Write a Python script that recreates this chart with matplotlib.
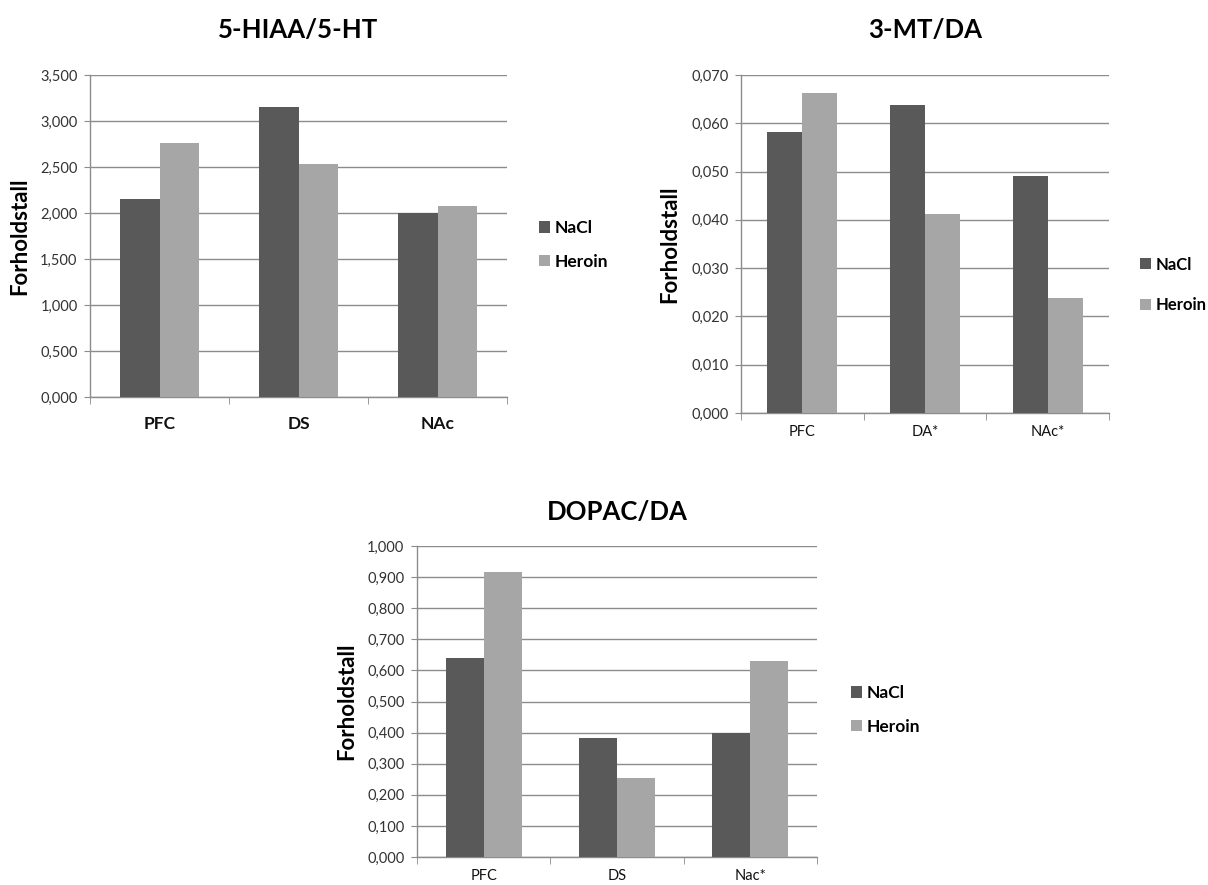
import numpy as np
import matplotlib
matplotlib.use("Agg")
import matplotlib.pyplot as plt
from matplotlib.ticker import FuncFormatter, FixedLocator

plt.rcParams['font.family'] = ['Lato', 'DejaVu Sans']

# Data
series = ["NaCl", "Heroin"]

hiaa_title = "5-HIAA/5-HT"
hiaa_cats = ["PFC", "DS", "NAc"]
hiaa_nacl = [2.15, 3.15, 2.00]
hiaa_heroin = [2.76, 2.53, 2.08]
hiaa_ticks = [0.0, 0.5, 1.0, 1.5, 2.0, 2.5, 3.0, 3.5]

mt_title = "3-MT/DA"
mt_cats = ["PFC", "DA*", "NAc*"]
mt_nacl = [0.0582, 0.0637, 0.0491]
mt_heroin = [0.0662, 0.0413, 0.0238]
mt_ticks = [0.0, 0.01, 0.02, 0.03, 0.04, 0.05, 0.06, 0.07]

dopac_title = "DOPAC/DA"
dopac_cats = ["PFC", "DS", "Nac*"]
dopac_nacl = [0.641, 0.382, 0.400]
dopac_heroin = [0.915, 0.253, 0.630]
dopac_ticks = [0.0, 0.1, 0.2, 0.3, 0.4, 0.5, 0.6, 0.7, 0.8, 0.9, 1.0]

ylabel = "Forholdstall"

DARK = "#595959"
LIGHT = "#a6a6a6"
GRID = "#8c8c8c"
W, H = 1208, 885

fig = plt.figure(figsize=(W / 100, H / 100), dpi=100)


def px_axes(left, right, top, bottom):
    return fig.add_axes([left / W, 1 - bottom / H, (right - left) / W, (bottom - top) / H])


def comma_fmt(v, pos):
    return f"{v:.3f}".replace(".", ",")


def draw(ax, title, cats, nacl, heroin, ticks, bold_cats, cat_size, title_y,
         ylab_x, leg_xy, leg_space, leg_size):
    x = np.arange(len(cats))
    w = 1 / 3.5
    b1 = ax.bar(x - w / 2, nacl, w, color=DARK, label=series[0], zorder=3)
    b2 = ax.bar(x + w / 2, heroin, w, color=LIGHT, label=series[1], zorder=3)
    ax.set_xlim(-0.5, len(cats) - 0.5)
    ax.set_ylim(ticks[0], ticks[-1])
    ax.yaxis.set_major_locator(FixedLocator(ticks))
    ax.yaxis.set_major_formatter(FuncFormatter(comma_fmt))
    ax.yaxis.grid(True, color=GRID, lw=1.0, zorder=0)
    ax.set_axisbelow(True)
    ax.set_xticks(x)
    ax.set_xticklabels(cats, fontsize=cat_size, fontweight="bold" if bold_cats else "normal",
                       color="#111111")
    ax.set_xticks(np.arange(len(cats) + 1) - 0.5, minor=True)
    ax.tick_params(axis="x", which="major", length=0, pad=14 if bold_cats else 9)
    ax.tick_params(axis="x", which="minor", length=5, color=GRID, direction="out")
    ax.tick_params(axis="y", length=4, color=GRID, labelsize=10.5, labelcolor="#333333", pad=5)
    for s in ("top", "right"):
        ax.spines[s].set_visible(False)
    for s in ("left", "bottom"):
        ax.spines[s].set_color(GRID)
        ax.spines[s].set_linewidth(1.0)
    pos = ax.get_position()
    fig.text(ylab_x / W, pos.y0 + pos.height / 2, ylabel, rotation=90,
             ha="center", va="center", fontsize=16, fontweight="bold")
    fig.text(pos.x0 + pos.width / 2, 1 - title_y / H, title,
             ha="center", va="center", fontsize=18.5, fontweight="bold")
    ax.legend(handles=[b1, b2], loc="center left",
              bbox_to_anchor=(leg_xy[0] / W, 1 - leg_xy[1] / H),
              bbox_transform=fig.transFigure, frameon=False,
              handlelength=0.65, handleheight=0.65, handletextpad=0.25,
              labelspacing=leg_space, borderpad=0,
              prop={"size": leg_size, "weight": "bold"})


ax1 = px_axes(90, 507, 75, 397)
draw(ax1, hiaa_title, hiaa_cats, hiaa_nacl, hiaa_heroin, hiaa_ticks,
     True, 12.5, 30, 20, (530, 245), 1.0, 12.5)

ax2 = px_axes(741, 1109, 75, 413)
draw(ax2, mt_title, mt_cats, mt_nacl, mt_heroin, mt_ticks,
     False, 10.5, 30, 670, (1132, 285), 1.5, 12)

ax3 = px_axes(417, 817, 546, 857)
draw(ax3, dopac_title, dopac_cats, dopac_nacl, dopac_heroin, dopac_ticks,
     False, 10.5, 512, 347, (842, 710), 1.0, 12.5)

fig.savefig("out.png", dpi=100, facecolor="white")
